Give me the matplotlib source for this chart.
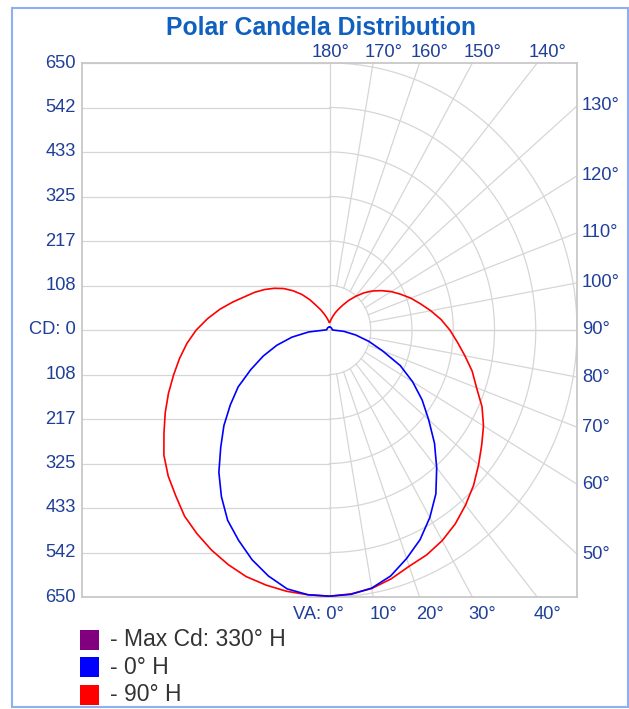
import numpy as np
import matplotlib.pyplot as plt
import matplotlib.transforms as mtransforms
from matplotlib.patches import Rectangle

plt.rcParams['font.family'] = ['Liberation Sans', 'DejaVu Sans']

# vertical angle, 0 = straight down (nadir), 180 = straight up
angles = np.arange(0, 181, 5)

# candela, one value per 5 deg
cd_0h = [648, 646, 638, 620, 592, 563, 527, 487, 438, 390, 340, 297, 252, 205,
         148, 107, 70, 38, 9, 7, 7, 7, 7, 7, 7, 7, 7, 7, 7, 7, 7, 7, 7, 7, 7, 7, 7]
cd_180h = [648, 647, 640, 620, 595, 565, 535, 495, 452, 404, 362, 318, 277, 228,
           185, 143, 100, 55, 12, 7, 7, 7, 7, 7, 7, 7, 7, 7, 7, 7, 7, 7, 7, 7, 7, 7, 7]
cd_90h = [648, 645, 639, 627, 612, 604, 592, 576, 556, 535, 511, 488, 467, 442,
          411, 388, 361, 337, 316, 294, 270, 247, 227, 206, 187, 167, 148, 128,
          107, 88, 70, 56, 45, 35, 27, 21, 19]
cd_270h = [648, 647, 646, 643, 639, 630, 619, 606, 592, 571, 553, 531, 502, 476,
           450, 424, 400, 376, 350, 321, 292, 263, 237, 217, 197, 177, 157, 135,
           113, 90, 68, 54, 42, 33, 26, 21, 19]

cd_max = 650
cd_labels = ['650', '542', '433', '325', '217', '108', 'CD: 0',
             '108', '217', '325', '433', '542', '650']

legend_labels = ['- Max Cd: 330\u00b0 H', '- 0\u00b0 H', '- 90\u00b0 H']
legend_colors = ['#800080', '#0000ff', '#ff0000']

W, H = 629, 709
fig = plt.figure(figsize=(W / 100, H / 100), dpi=100)
ax = fig.add_axes([82 / W, 1 - 597 / H, 495 / W, 534 / H])

grid_kw = dict(color='#d6d6d6', lw=0.9, zorder=1)

# left half: plain horizontal lines, right half: rings
rings = cd_max * np.arange(1, 7) / 6
t = np.linspace(0, np.pi, 200)
for r in rings:
    ax.plot([-cd_max, 0], [r, r], **grid_kw)
    ax.plot([-cd_max, 0], [-r, -r], **grid_kw)
    ax.plot(r * np.sin(t), -r * np.cos(t), **grid_kw)
ax.axhline(0, **grid_kw)
ax.axvline(0, **grid_kw)
for a in range(10, 180, 10):
    th = np.radians(a)
    ax.plot([rings[0] * np.sin(th), 2000 * np.sin(th)],
            [-rings[0] * np.cos(th), -2000 * np.cos(th)], **grid_kw)

# curves: right half and mirrored left half
th = np.radians(angles)
def closed_curve(right, left):
    right = np.array(right, float)
    left = np.array(left, float)
    x = np.concatenate([-(left * np.sin(th))[::-1], right * np.sin(th)])
    y = np.concatenate([-(left * np.cos(th))[::-1], -right * np.cos(th)])
    return x, y

xr, yr = closed_curve(cd_90h, cd_270h)
ax.plot(xr, yr, color='#ff0000', lw=1.2, zorder=3)
xb, yb = closed_curve(cd_0h, cd_180h)
ax.plot(xb, yb, color='#0000ff', lw=1.2, zorder=4)

ax.set_xlim(-cd_max, cd_max)
ax.set_ylim(-cd_max, cd_max)
ax.set_xticks([])
ax.set_yticks([])
for s in ax.spines.values():
    s.set_color('#c8c8c8')
    s.set_linewidth(1.3)

lab_kw = dict(fontsize=13.2, color='#1f3f99')

def off(dx, dy):
    return mtransforms.offset_copy(ax.transData, fig=fig, x=dx, y=dy, units='dots')

# CD labels on the left
for y, lab in zip(np.linspace(cd_max, -cd_max, 13), cd_labels):
    ax.text(-cd_max, y, lab, transform=off(-6, 0), ha='right', va='center',
            clip_on=False, **lab_kw)

# angle labels where the spokes leave the frame
for a in range(50, 140, 10):
    y = -cd_max / np.tan(np.radians(a))
    ax.text(cd_max, y, f'{a}\u00b0', transform=off(5, 0), ha='left', va='center',
            clip_on=False, **lab_kw)
for a in range(10, 50, 10):
    x = cd_max * np.tan(np.radians(a))
    ax.text(x, -cd_max, f'{a}\u00b0', transform=off(10, -9), ha='center', va='top',
            clip_on=False, **lab_kw)
for a in range(140, 180, 10):
    x = cd_max * np.tan(np.radians(180 - a))
    ax.text(x, cd_max, f'{a}\u00b0', transform=off(10, 2), ha='center', va='bottom',
            clip_on=False, **lab_kw)
ax.text(0, cd_max, '180\u00b0', transform=off(1, 2), ha='center', va='bottom',
        clip_on=False, **lab_kw)
ax.text(0, -cd_max, 'VA: 0\u00b0', transform=off(14, -9), ha='right', va='top',
        clip_on=False, **lab_kw)

fig.text(320.5 / W, 1 - 35 / H, 'Polar Candela Distribution', ha='center',
         va='baseline', fontsize=17.8, fontweight='bold', color='#1060c0')

# legend
for i, (lab, col) in enumerate(zip(legend_labels, legend_colors)):
    top = 630 + i * 27.3
    fig.patches.append(Rectangle((80 / W, 1 - (top + 20) / H), 19 / W, 20 / H,
                                 transform=fig.transFigure, facecolor=col,
                                 edgecolor='none'))
    fig.text(110 / W, 1 - (top + 10) / H, lab, ha='left', va='center',
             fontsize=16.5, color='#333333')

# outer frame
fig.patches.append(Rectangle((11.5 / W, 2 / H), 616 / W, 699 / H,
                             transform=fig.transFigure, fill=False,
                             edgecolor='#8fb0f0', lw=1.5))

fig.savefig('out.png', dpi=100)
